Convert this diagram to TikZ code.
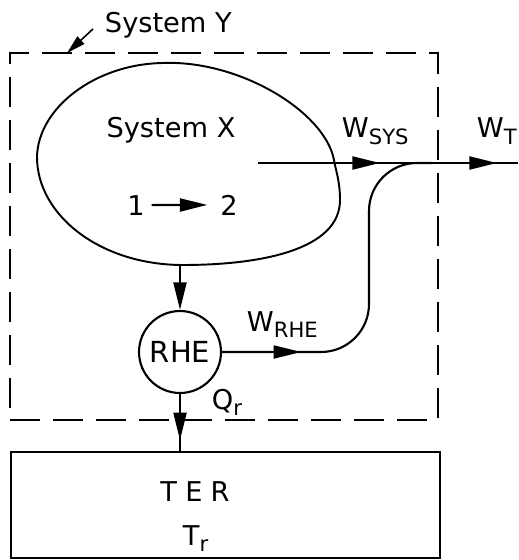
\documentclass[tikz,border=0pt]{standalone}
\usepackage{fontspec}
\setmainfont{DejaVu Sans}
\usetikzlibrary{arrows.meta,decorations.markings,calc}

\newcommand{\lowsub}[1]{\raisebox{-0.45ex}{\fontsize{12}{12}\selectfont #1}}

\begin{document}
\begin{tikzpicture}[
    x=0.02cm, y=-0.02cm,
    line width=1.1pt,
    lbl/.style={font=\fontsize{15.5}{17}\selectfont, inner sep=0pt},
    flow/.style={line width=1.2pt},
    tip/.style={-{Triangle[length=0.55cm,width=0.26cm]}},
    midtip/.style={postaction={decorate, decoration={markings, mark=at position #1 with {\arrow{Triangle[length=0.55cm,width=0.26cm]}}}}},
    boundary/.style={draw, dash pattern=on 0.6cm off 0.26cm, line width=0.9pt}
]
    \useasboundingbox (0,0) rectangle (519,560);

    % --- System Y (dashed boundary) ---
    \node[boundary, minimum width=8.56cm, minimum height=7.34cm, inner sep=0pt] (sysy) at (224,236.5) {};
    \node[lbl, anchor=base west] (sysylbl) at (104,33) {System Y};
    \coordinate (ytail) at (93,29);
    \coordinate (yhead) at (67,53);
    \draw[line width=0.9pt, -{Triangle[length=0.38cm,width=0.2cm]}] (ytail) -- (yhead);

    % --- System X (blob) ---
    \draw (163,63) .. controls (240,60) and (325,112) .. (334,160)
        .. controls (335,168) and (340,180) .. (340,200)
        .. controls (340,250) and (260,265) .. (183,265)
        .. controls (100,265) and (37,215) .. (37,157)
        .. controls (38,108) and (95,64) .. (163,63) -- cycle;
    \node[lbl, anchor=base] (sysx) at (171,138) {System X};
    \node[lbl, anchor=base] (st1) at (136,215) {1};
    \node[lbl, anchor=base] (st2) at (229,215) {2};
    \draw[flow, tip, shorten <=0.12cm, shorten >=0.24cm] (st1.east) -- (st2.west);
    \coordinate (xbot) at (180,265);

    % --- Reversible heat engine ---
    \node[draw, circle, minimum size=1.64cm, inner sep=0pt, line width=1.2pt, font=\fontsize{16.5}{18}\selectfont] (rhe) at (180,352) {RHE};
    \draw[flow, tip] (xbot) -- (rhe.north);

    % --- Thermal energy reservoir ---
    \node[draw, line width=1.2pt, minimum width=8.58cm, minimum height=2.12cm, inner sep=0pt] (ter) at (225.5,505) {};
    \node[lbl, anchor=base] (tername) at (195,501) {T\hspace{0.3em}E\hspace{0.3em}R};
    \node[lbl, anchor=base west] (tertemp) at (182,545) {T\lowsub{r}};
    \draw[flow, midtip=0.92cm] (rhe.south) -- (rhe.south |- ter.north);
    \node[lbl, anchor=base west] (qr) at (211,409) {Q\lowsub{r}};

    % --- Work flows ---
    \coordinate (wstart) at (258,163);
    \coordinate (wend) at (518,163);
    \coordinate (bend) at (369,163);
    \coordinate (merge) at (432,163);
    \draw[flow, midtip=2.44cm, midtip=4.78cm] (wstart) -- (wend);
    \draw[flow, rounded corners=0.96cm, midtip=1.58cm] (rhe.east) -| (bend) -- (merge);
    \node[lbl, anchor=base west] (wsys) at (341,138) {W\lowsub{SYS}};
    \node[lbl, anchor=base west] (wt) at (476,138) {W\lowsub{T}};
    \node[lbl, anchor=base west] (wrhe) at (246,331) {W\lowsub{RHE}};
\end{tikzpicture}
\end{document}
